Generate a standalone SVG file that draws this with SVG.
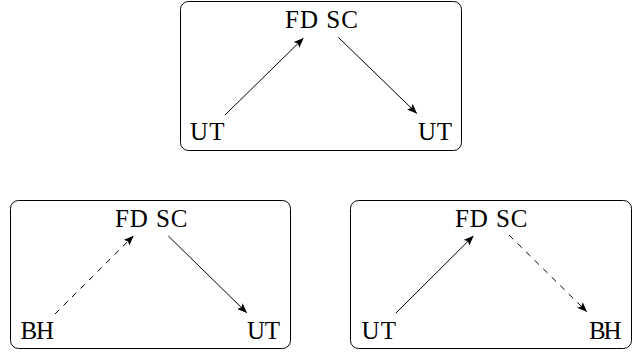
<svg xmlns="http://www.w3.org/2000/svg" width="644" height="352" viewBox="0 0 644 352">
<style>
.box{fill:#fff;stroke:#000;stroke-width:1}
.lbl{font-family:"Liberation Serif","Times New Roman",serif;font-size:25px;fill:#000}
.e{fill:none;stroke:#000;stroke-width:1}
.d{stroke-dasharray:6 6}
</style>
<defs>
<marker id="ah" markerUnits="userSpaceOnUse" viewBox="0 0 10 8" markerWidth="11" markerHeight="8" refX="9.5" refY="4" orient="auto">
<path d="M0,0 L10,4 L0,8 L2,4 z" fill="#000"/>
</marker>
</defs>
<g id="panel-top">
<rect class="box" x="180.5" y="1.5" width="281" height="149" rx="8"/>
<g id="top-fdsc"><text class="lbl" x="285" y="28" textLength="73">FD SC</text></g>
<g id="top-ut-left"><text class="lbl" x="190" y="140" textLength="34.5">UT</text></g>
<g id="top-ut-right"><text class="lbl" x="418" y="140" textLength="34">UT</text></g>
</g>
<g id="panel-bl">
<rect class="box" x="10.5" y="200.5" width="280" height="148" rx="8"/>
<g id="bl-fdsc"><text class="lbl" x="115" y="226.5" textLength="72.5">FD SC</text></g>
<g id="bl-bh"><text class="lbl" x="20.5" y="339" textLength="33.5">BH</text></g>
<g id="bl-ut"><text class="lbl" x="247" y="339" textLength="33">UT</text></g>
</g>
<g id="panel-br">
<rect class="box" x="350.5" y="200.5" width="281" height="148" rx="8"/>
<g id="br-fdsc"><text class="lbl" x="455" y="226.5" textLength="72.5">FD SC</text></g>
<g id="br-ut"><text class="lbl" x="361.5" y="339" textLength="34.5">UT</text></g>
<g id="br-bh"><text class="lbl" x="589" y="339" textLength="32.5">BH</text></g>
</g>
<g id="connectors">
<line class="e" x1="225" y1="115" x2="303.3" y2="38.3" marker-end="url(#ah)"/>
<line class="e" x1="338.3" y1="37.3" x2="416.7" y2="113.3" marker-end="url(#ah)"/>
<line class="e d" x1="55" y1="314" x2="133.3" y2="236" marker-end="url(#ah)"/>
<line class="e" x1="168.3" y1="236" x2="246.7" y2="312.7" marker-end="url(#ah)"/>
<line class="e" x1="395.7" y1="313.3" x2="473.3" y2="236" marker-end="url(#ah)"/>
<line class="e d" x1="509" y1="235" x2="586.7" y2="311.7" marker-end="url(#ah)"/>
</g>
</svg>
